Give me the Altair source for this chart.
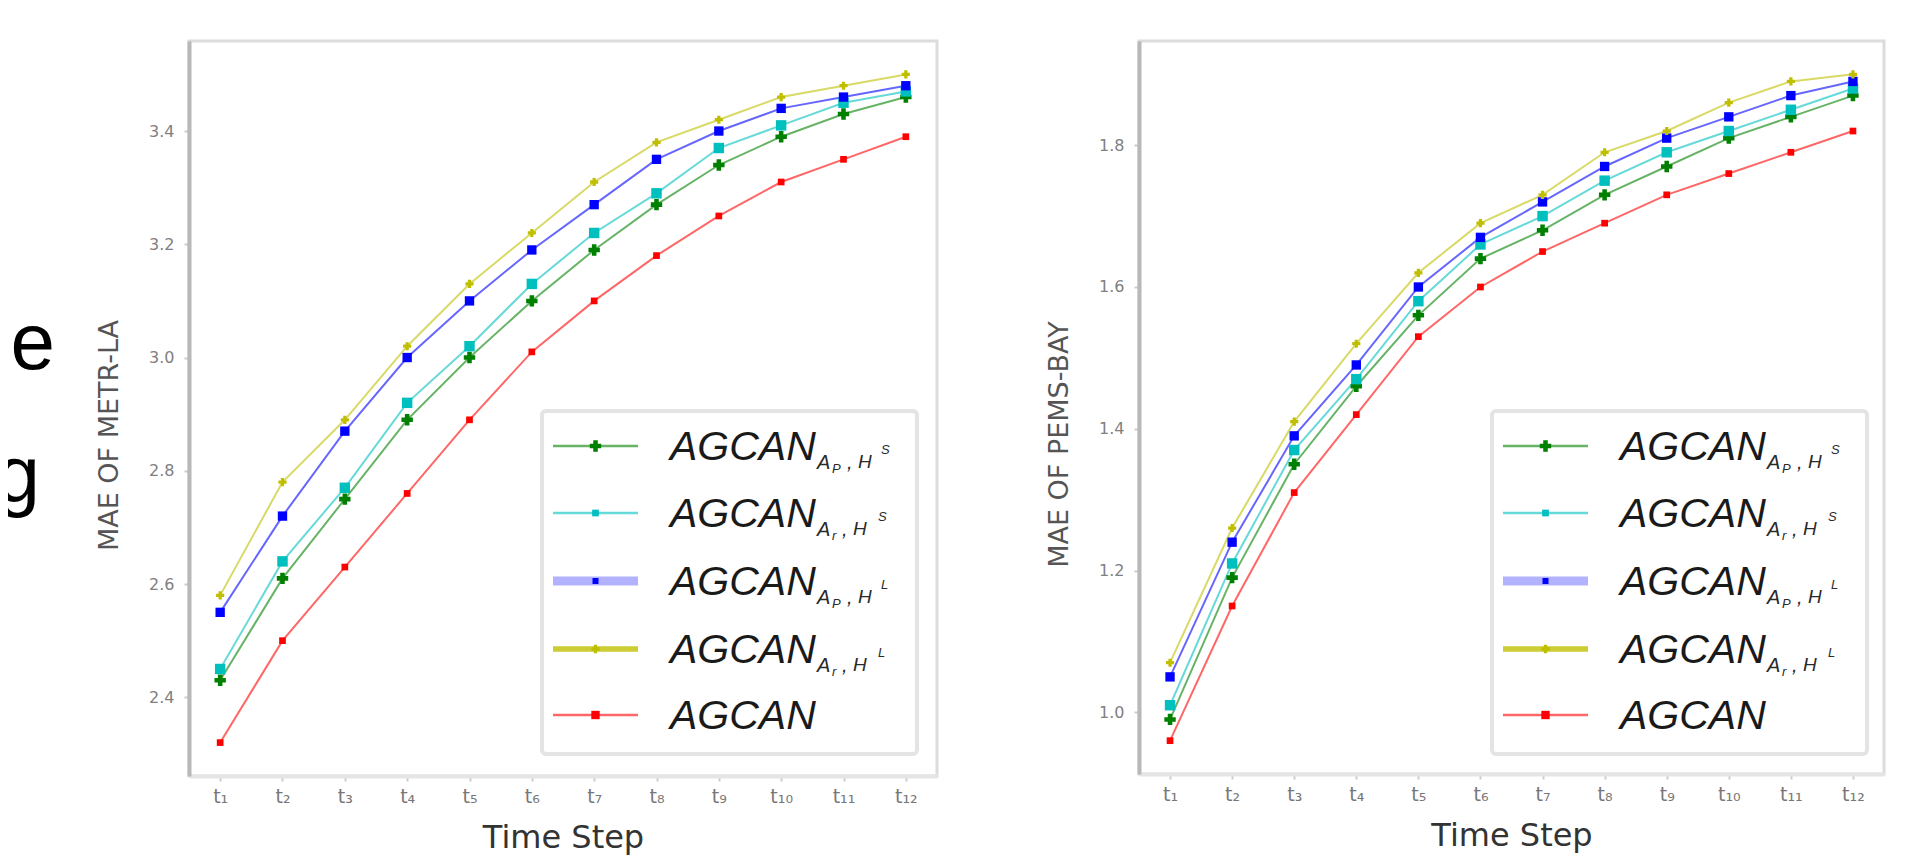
import altair as alt
import pandas as pd

# ---------------- data ----------------
steps = ["t₁", "t₂", "t₃", "t₄", "t₅", "t₆", "t₇", "t₈", "t₉", "t₁₀", "t₁₁", "t₁₂"]
series = ["AGCAN_{A_P,H^S}", "AGCAN_{A_r,H^S}", "AGCAN_{A_P,H^L}", "AGCAN_{A_r,H^L}", "AGCAN"]

metr_green = [2.43, 2.61, 2.75, 2.89, 3.00, 3.10, 3.19, 3.27, 3.34, 3.39, 3.43, 3.46]
metr_cyan = [2.45, 2.64, 2.77, 2.92, 3.02, 3.13, 3.22, 3.29, 3.37, 3.41, 3.45, 3.47]
metr_blue = [2.55, 2.72, 2.87, 3.00, 3.10, 3.19, 3.27, 3.35, 3.40, 3.44, 3.46, 3.48]
metr_yellow = [2.58, 2.78, 2.89, 3.02, 3.13, 3.22, 3.31, 3.38, 3.42, 3.46, 3.48, 3.50]
metr_red = [2.32, 2.50, 2.63, 2.76, 2.89, 3.01, 3.10, 3.18, 3.25, 3.31, 3.35, 3.39]

pems_green = [0.99, 1.19, 1.35, 1.46, 1.56, 1.64, 1.68, 1.73, 1.77, 1.81, 1.84, 1.87]
pems_cyan = [1.01, 1.21, 1.37, 1.47, 1.58, 1.66, 1.70, 1.75, 1.79, 1.82, 1.85, 1.88]
pems_blue = [1.05, 1.24, 1.39, 1.49, 1.60, 1.67, 1.72, 1.77, 1.81, 1.84, 1.87, 1.89]
pems_yellow = [1.07, 1.26, 1.41, 1.52, 1.62, 1.69, 1.73, 1.79, 1.82, 1.86, 1.89, 1.90]
pems_red = [0.96, 1.15, 1.31, 1.42, 1.53, 1.60, 1.65, 1.69, 1.73, 1.76, 1.79, 1.82]

metr_ticks = [2.4, 2.6, 2.8, 3.0, 3.2, 3.4]
pems_ticks = [1.0, 1.2, 1.4, 1.6, 1.8]

# ---------------- styles ----------------
colors = ["#008000", "#00bfbf", "#0000ff", "#bfbf00", "#ff0000"]
shapes = ["cross", "square", "square", "cross", "square"]
sizes = [130, 45, 36, 70, 70]
leg_line_w = [2.7, 2.7, 9, 5.5, 2.7]
leg_line_op = [0.6, 0.6, 0.3, 0.8, 0.6]
sub_letter = ["P", "r", "P", "r", None]
sup_letter = ["S", "S", "L", "L", None]


def long_df(cols):
    rows = []
    for name, vals in zip(series, cols):
        for s, v in zip(steps, vals):
            rows.append({"step": s, "series": name, "mae": v})
    return pd.DataFrame(rows)


metr_df = long_df([metr_green, metr_cyan, metr_blue, metr_yellow, metr_red])
pems_df = long_df([pems_green, pems_cyan, pems_blue, pems_yellow, pems_red])

one = pd.DataFrame({"i": [0]})

LBL_FONT = "Liberation Sans"


def legend_layers():
    layers = []
    layers.append(
        alt.Chart(one).mark_rect(fill="white", stroke="#e4e4e4", strokeWidth=4, cornerRadius=4)
        .encode(x=alt.value(353), x2=alt.value(728), y=alt.value(370), y2=alt.value(713))
    )
    row_y = [405, 472, 540, 608, 674]
    for k in range(5):
        Y = row_y[k]
        layers.append(
            alt.Chart(one).mark_rule(color=colors[k], strokeWidth=leg_line_w[k], opacity=leg_line_op[k])
            .encode(x=alt.value(364), x2=alt.value(449), y=alt.value(Y))
        )
        layers.append(
            alt.Chart(one).mark_point(filled=True, shape=shapes[k], size=sizes[k], color=colors[k], opacity=1)
            .encode(x=alt.value(406.5), y=alt.value(Y))
        )
        layers.append(
            alt.Chart(one).mark_text(text="AGCAN", font=LBL_FONT, fontStyle="italic", fontSize=41,
                                     align="left", baseline="alphabetic", color="#1a1a1a")
            .encode(x=alt.value(481), y=alt.value(Y + 14))
        )
        if sub_letter[k] is not None:
            if sub_letter[k] == "P":
                xs = [628, 643, 658, 669, 692]
            else:
                xs = [628, 643, 653, 664, 689]
            pieces = [
                ("A", xs[0], Y + 23, 20),
                (sub_letter[k], xs[1], Y + 27, 13),
                (",", xs[2], Y + 23, 20),
                ("H", xs[3], Y + 22, 19),
                (sup_letter[k], xs[4], Y + 8, 13),
            ]
            for txt, px, py, fs in pieces:
                layers.append(
                    alt.Chart(one).mark_text(text=txt, font=LBL_FONT, fontStyle="italic", fontSize=fs,
                                             align="left", baseline="alphabetic", color="#2a2a2a")
                    .encode(x=alt.value(px), y=alt.value(py))
                )
    return layers


def panel(df, ytitle, ydomain, yticks, width, height, title_y, extra=None):
    base = alt.Chart(df).encode(
        x=alt.X("step:O", sort=steps,
                scale=alt.Scale(type="point", padding=0.5),
                axis=alt.Axis(title="Time Step", labelAngle=0, labelFont="DejaVu Sans",
                              labelFontSize=19, labelColor="#777777", labelPadding=6,
                              tickSize=5, tickColor="#cccccc", tickWidth=2,
                              domainColor="#e5e5e5", domainWidth=4,
                              titleFont="DejaVu Sans", titleFontSize=32, titleFontWeight="normal",
                              titleColor="#333333", titleY=71, titleBaseline="alphabetic")),
        y=alt.Y("mae:Q", scale=alt.Scale(domain=ydomain, nice=False, zero=False),
                axis=alt.Axis(title=ytitle, values=yticks, format=".1f", labelFont="DejaVu Sans",
                              labelFontSize=16, labelColor="#808080", labelPadding=10,
                              tickSize=5, tickColor="#cccccc", tickWidth=2,
                              domainColor="#b8b8b8", domainWidth=4,
                              titleFont="DejaVu Sans", titleFontSize=27, titleFontWeight="normal",
                              titleColor="#555555", titleAngle=270, titleX=-80, titleY=title_y,
                              titleBaseline="middle", titleAlign="center")),
        color=alt.Color("series:N", scale=alt.Scale(domain=series, range=colors), legend=None),
    )
    lines = base.mark_line(strokeWidth=2, opacity=0.6)
    pts = base.mark_point(filled=True, opacity=1).encode(
        shape=alt.Shape("series:N", scale=alt.Scale(domain=series, range=shapes), legend=None),
        size=alt.Size("series:N", scale=alt.Scale(domain=series, range=sizes), legend=None),
    )
    layers = [lines, pts] + legend_layers()
    if extra:
        layers = layers + extra
    return alt.layer(*layers).properties(width=width, height=height)


cut_text = [
    alt.Chart(one).mark_text(text="e", font=LBL_FONT, fontSize=80, align="right",
                             baseline="alphabetic", color="black")
    .encode(x=alt.value(-134), y=alt.value(328)),
    alt.Chart(one).mark_text(text="g", font=LBL_FONT, fontSize=80, align="right",
                             baseline="alphabetic", color="black")
    .encode(x=alt.value(-149), y=alt.value(460)),
]

left = panel(metr_df, "MAE OF METR-LA", [2.261, 3.559], metr_ticks, 748, 735, 394, extra=cut_text)
right = panel(pems_df, "MAE OF PEMS-BAY", [0.913, 1.947], pems_ticks, 745, 733, 403)

chart = alt.hconcat(left, right, spacing=104).properties(
    padding={"left": -14, "top": 31, "right": 5, "bottom": 5}
).configure_view(stroke="#dcdcdc", strokeWidth=3).configure_axis(grid=False)

chart.save("out.html", embed_options={"renderer": "svg", "actions": False})
